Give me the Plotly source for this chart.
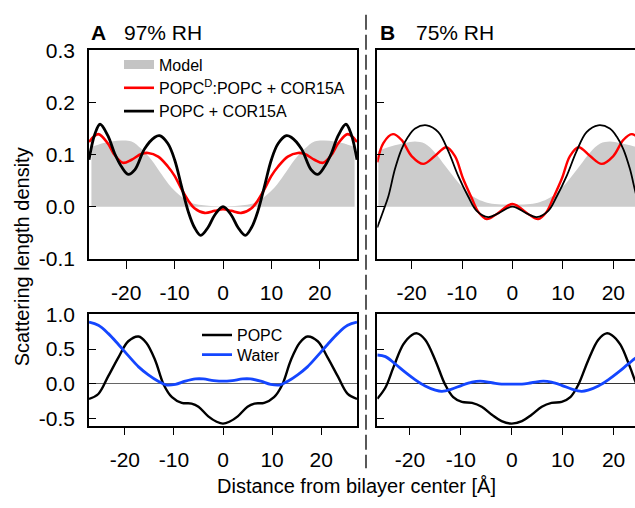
import plotly.graph_objects as go

# ---------------- data ----------------
# Panel A top (97% RH)
a_line_x = [-27.7, -26.5, -25.4, -23.8, -22.4, -21.0, -19.6, -18.2, -16.2, -14.1, -13.1, -11.4, -10.0, -8.6, -7.2, -5.9, -4.6, -3.1, -1.7, 0.0,
            1.7, 3.1, 4.6, 5.9, 7.2, 8.6, 10.0, 11.4, 13.1, 14.1, 16.2, 18.2, 19.6, 21.0, 22.4, 23.8, 25.4, 26.5, 27.7]
a_black = [0.090, 0.139, 0.158, 0.136, 0.102, 0.077, 0.062, 0.071, 0.111, 0.133, 0.136, 0.121, 0.090, 0.040, -0.009, -0.040, -0.055, -0.040, -0.016, 0.000,
           -0.016, -0.040, -0.055, -0.040, -0.009, 0.040, 0.090, 0.121, 0.136, 0.133, 0.111, 0.071, 0.062, 0.077, 0.102, 0.136, 0.158, 0.139, 0.090]

a_red_x = [-27.7, -25.8, -23.8, -22.4, -20.7, -18.9, -16.9, -15.5, -13.4, -11.4, -10.0, -8.6, -7.2, -5.9, -3.8, -1.7, 0.0,
           1.7, 3.8, 5.9, 7.2, 8.6, 10.0, 11.4, 13.4, 15.5, 16.9, 18.9, 20.7, 22.4, 23.8, 25.8, 27.7]
a_red = [0.124, 0.139, 0.121, 0.099, 0.084, 0.090, 0.101, 0.103, 0.096, 0.077, 0.059, 0.034, 0.012, -0.003, -0.012, -0.008, -0.005,
         -0.008, -0.012, -0.003, 0.012, 0.034, 0.059, 0.077, 0.096, 0.103, 0.101, 0.090, 0.084, 0.099, 0.121, 0.139, 0.124]

a_model_x = [-27.2, -26.0, -25.1, -23.0, -21.0, -18.9, -16.9, -14.8, -12.7, -10.7, -8.6, -6.5, -4.5, -2.5, 0.0,
             2.5, 4.5, 6.5, 8.6, 10.7, 12.7, 14.8, 16.9, 18.9, 21.0, 23.0, 25.1, 26.0, 27.2]
a_model = [0.115, 0.118, 0.121, 0.125, 0.127, 0.125, 0.111, 0.090, 0.062, 0.037, 0.019, 0.007, 0.003, 0.001, 0.000,
           0.001, 0.003, 0.007, 0.019, 0.037, 0.062, 0.090, 0.111, 0.125, 0.127, 0.125, 0.121, 0.118, 0.115]

# Panel B top (75% RH)
b_black_x = [-26.8, -25.6, -24.6, -23.3, -22.0, -20.7, -19.3, -17.0, -14.7, -12.7, -10.8, -8.8, -7.1, -4.8, -2.8, 0.0,
             2.8, 4.8, 7.1, 8.8, 10.8, 12.7, 14.7, 17.0, 19.3, 20.7, 22.0, 23.3, 24.6, 25.6, 26.8]
b_black = [-0.040, -0.008, 0.020, 0.072, 0.110, 0.134, 0.150, 0.156, 0.143, 0.106, 0.060, 0.020, -0.008, -0.020, -0.013, 0.000,
           -0.013, -0.020, -0.008, 0.020, 0.060, 0.106, 0.143, 0.156, 0.150, 0.134, 0.110, 0.072, 0.020, -0.008, -0.040]

b_red_x = [-26.8, -25.6, -23.7, -22.0, -20.0, -17.7, -15.4, -13.1, -11.4, -9.8, -8.1, -6.7, -5.1, -3.1, 0.0,
           3.1, 5.1, 6.7, 8.1, 9.8, 11.4, 13.1, 15.4, 17.7, 20.0, 22.0, 23.7, 25.6, 26.8]
b_red = [0.085, 0.122, 0.139, 0.128, 0.097, 0.082, 0.097, 0.114, 0.097, 0.054, 0.017, -0.011, -0.024, -0.014, 0.005,
         -0.014, -0.024, -0.011, 0.017, 0.054, 0.097, 0.114, 0.097, 0.082, 0.097, 0.128, 0.139, 0.122, 0.085]

b_model_x = [-26.6, -24.0, -21.3, -19.3, -17.4, -15.4, -13.4, -11.4, -9.4, -7.4, -5.5, -3.5, 0.0,
             3.5, 5.5, 7.4, 9.4, 11.4, 13.4, 15.4, 17.4, 19.3, 21.3, 24.0, 26.6]
b_model = [0.107, 0.116, 0.122, 0.125, 0.121, 0.104, 0.079, 0.054, 0.032, 0.017, 0.009, 0.005, 0.004,
           0.005, 0.009, 0.017, 0.032, 0.054, 0.079, 0.104, 0.121, 0.125, 0.122, 0.116, 0.107]

# Panel A bottom (components)
ab_x = [-27.3, -25.4, -23.4, -21.3, -19.3, -17.2, -15.6, -13.8, -12.1, -10.4, -8.4, -6.4, -5.0, -3.0, -1.3, 0.0,
        1.3, 3.0, 5.0, 6.4, 8.4, 10.4, 12.1, 13.8, 15.6, 17.2, 19.3, 21.3, 23.4, 25.4, 27.3]
ab_popc = [-0.220, -0.148, 0.105, 0.381, 0.612, 0.681, 0.588, 0.336, -0.010, -0.193, -0.276, -0.286, -0.331, -0.470, -0.548, -0.576,
           -0.548, -0.470, -0.331, -0.286, -0.276, -0.193, -0.010, 0.336, 0.588, 0.681, 0.612, 0.381, 0.105, -0.148, -0.220]
aw_x = [-27.3, -25.4, -23.4, -21.3, -19.3, -17.2, -15.2, -13.2, -11.5, -9.7, -7.7, -5.6, -4.0, -1.9, 0.0,
        1.9, 4.0, 5.6, 7.7, 9.7, 11.5, 13.2, 15.2, 17.2, 19.3, 21.3, 23.4, 25.4, 27.3]
aw_water = [0.888, 0.842, 0.726, 0.566, 0.405, 0.243, 0.128, 0.036, -0.019, -0.010, 0.036, 0.069, 0.069, 0.046, 0.036,
            0.046, 0.069, 0.069, 0.036, -0.010, -0.019, 0.036, 0.128, 0.243, 0.405, 0.566, 0.726, 0.842, 0.888]

# Panel B bottom (components)
bb_x = [-26.4, -24.8, -23.2, -21.3, -19.6, -18.6, -17.0, -15.0, -13.1, -11.5, -9.8, -7.8, -5.9, -3.9, -2.0, 0.0,
        2.0, 3.9, 5.9, 7.8, 9.8, 11.5, 13.1, 15.0, 17.0, 18.6, 19.6, 21.3, 23.2, 24.8, 26.4]
bb_popc = [-0.217, -0.055, 0.243, 0.566, 0.704, 0.726, 0.635, 0.336, -0.010, -0.193, -0.262, -0.276, -0.331, -0.447, -0.539, -0.576,
           -0.539, -0.447, -0.331, -0.276, -0.262, -0.193, -0.010, 0.336, 0.635, 0.726, 0.704, 0.566, 0.243, -0.055, -0.217]
bw_x = [-26.4, -24.8, -22.9, -21.0, -19.0, -17.0, -15.0, -13.7, -11.8, -9.8, -7.8, -6.2, -3.9, -2.0, 0.0,
        2.0, 3.9, 6.2, 7.8, 9.8, 11.8, 13.7, 15.0, 17.0, 19.0, 21.0, 22.9, 24.8, 26.4]
bw_water = [0.414, 0.391, 0.285, 0.170, 0.059, -0.033, -0.093, -0.110, -0.079, -0.023, 0.022, 0.036, 0.014, -0.005, -0.005,
            -0.005, 0.014, 0.036, 0.022, -0.023, -0.079, -0.110, -0.093, -0.033, 0.059, 0.170, 0.285, 0.391, 0.414]

x_tickvals = [-20, -10, 0, 10, 20]
x_ticktext = ["-20", "-10", "0", "10", "20"]
top_y_tickvals = [-0.1, 0.0, 0.1, 0.2, 0.3]
top_y_ticktext = ["-0.1", "0.0", "0.1", "0.2", "0.3"]
bot_y_tickvals = [-0.5, 0.0, 0.5, 1.0]
bot_y_ticktext = ["-0.5", "0.0", "0.5", "1.0"]

# ---------------- layout helpers ----------------
W, H = 635, 508
FONT = "Liberation Sans, Arial, Helvetica, sans-serif"
RED = "#ff0000"
BLUE = "#1446ff"
GRAY = "#cccccc"


def fx(p):
    return p / W


def fy(p):
    return 1 - p / H


fig = go.Figure()


def line(x, y, color, width, xa, ya, name=None, legend=None, showlegend=False):
    fig.add_trace(go.Scatter(x=x, y=y, mode="lines", line=dict(color=color, width=width, shape="spline", smoothing=1.0),
                             xaxis=xa, yaxis=ya, name=name, showlegend=showlegend, legend=legend, hoverinfo="skip"))


# Top A
fig.add_trace(go.Scatter(x=a_model_x, y=a_model, mode="lines", fill="tozeroy", fillcolor=GRAY,
                         line=dict(width=0, color=GRAY, shape="spline"), xaxis="x", yaxis="y", showlegend=False, hoverinfo="skip"))
# legend swatch for the model (no data, legend only)
fig.add_trace(go.Scatter(x=[None], y=[None], mode="lines", line=dict(width=9, color="#c4c4c4"),
                         name="Model", legend="legend", xaxis="x", yaxis="y", showlegend=True))
line(a_red_x, a_red, RED, 2.6, "x", "y", name="POPC<sup>D</sup>:POPC + COR15A", legend="legend2", showlegend=True)
line(a_line_x, a_black, "black", 2.8, "x", "y", name="POPC + COR15A", legend="legend3", showlegend=True)

# Top B
fig.add_trace(go.Scatter(x=b_model_x, y=b_model, mode="lines", fill="tozeroy", fillcolor=GRAY,
                         line=dict(width=0, color=GRAY, shape="spline"), xaxis="x2", yaxis="y2", showlegend=False, hoverinfo="skip"))
line(b_red_x, b_red, RED, 2.4, "x2", "y2")
line(b_black_x, b_black, "black", 1.8, "x2", "y2")

# Bottom A
line(ab_x, ab_popc, "black", 2.4, "x3", "y3", name="POPC", legend="legend4", showlegend=True)
line(aw_x, aw_water, BLUE, 2.8, "x3", "y3", name="Water", legend="legend5", showlegend=True)

# Bottom B
line(bb_x, bb_popc, "black", 2.4, "x4", "y4")
line(bw_x, bw_water, BLUE, 2.8, "x4", "y4")

left_dom = [fx(89), fx(357)]
right_dom = [fx(377.3), 1.0]
top_dom = [fy(258.5), fy(40)]
bot_dom = [fy(433.3), fy(316.7)]

tickfont = dict(family=FONT, size=21, color="black")
common_x = dict(showline=True, linecolor="black", linewidth=1.6, mirror=True, ticks="outside", ticklen=8,
                tickwidth=1.4, tickcolor="black", tickvals=x_tickvals, ticktext=x_ticktext, tickfont=tickfont,
                showgrid=False, zeroline=False, ticklabelstandoff=6)
common_y = dict(showline=True, linecolor="black", linewidth=1.6, ticks="inside", ticklen=7, tickwidth=1.4,
                tickcolor="black", tickfont=tickfont, showgrid=False, ticklabelstandoff=8)

leg_font = dict(family=FONT, size=16, color="black")


def leg(xp, yp):
    return dict(x=fx(xp), y=fy(yp), xanchor="left", yanchor="middle", bgcolor="rgba(0,0,0,0)",
                font=leg_font, borderwidth=0)


fig.update_layout(
    width=W, height=H, autosize=False,
    margin=dict(l=0, r=0, t=0, b=0),
    paper_bgcolor="white", plot_bgcolor="white",
    font=dict(family=FONT, size=16, color="black"),
    xaxis=dict(domain=left_dom, range=[-27.7, 27.7], anchor="y", **common_x),
    yaxis=dict(domain=top_dom, range=[-0.1, 0.3], anchor="x", mirror=True, zeroline=False,
               tickvals=top_y_tickvals, ticktext=top_y_ticktext, **common_y),
    xaxis2=dict(domain=right_dom, range=[-26.8, 24.3], anchor="y2", **common_x),
    yaxis2=dict(domain=top_dom, range=[-0.1, 0.3], anchor="x2", mirror=False, zeroline=False,
                tickvals=top_y_tickvals, showticklabels=False, **common_y),
    xaxis3=dict(domain=left_dom, range=[-27.3, 27.3], anchor="y3", **common_x),
    yaxis3=dict(domain=bot_dom, range=[-0.605, 1.0], anchor="x3", mirror=True, zeroline=True,
                zerolinecolor="#666666", zerolinewidth=1.2,
                tickvals=bot_y_tickvals, ticktext=bot_y_ticktext, **common_y),
    xaxis4=dict(domain=right_dom, range=[-26.4, 24.2], anchor="y4", **common_x),
    yaxis4=dict(domain=bot_dom, range=[-0.605, 1.0], anchor="x4", mirror=False, zeroline=True,
                zerolinecolor="#333333", zerolinewidth=1.2,
                tickvals=bot_y_tickvals, showticklabels=False, **common_y),
    legend=leg(119, 55),
    legend2=leg(119, 79.5),
    legend3=leg(119, 104),
    legend4=leg(197, 338.5),
    legend5=leg(197, 359),
    showlegend=True,
)

ann_font = dict(family=FONT, size=21, color="black")
fig.add_annotation(text="<b>A</b>", x=fx(89), y=fy(21), xref="paper", yref="paper", xanchor="left", yanchor="middle",
                   showarrow=False, font=ann_font)
fig.add_annotation(text="97% RH", x=fx(122), y=fy(21), xref="paper", yref="paper", xanchor="left", yanchor="middle",
                   showarrow=False, font=ann_font)
fig.add_annotation(text="<b>B</b>", x=fx(378), y=fy(21), xref="paper", yref="paper", xanchor="left", yanchor="middle",
                   showarrow=False, font=ann_font)
fig.add_annotation(text="75% RH", x=fx(414), y=fy(21), xref="paper", yref="paper", xanchor="left", yanchor="middle",
                   showarrow=False, font=ann_font)
title_font = dict(family=FONT, size=20, color="black")
fig.add_annotation(text="Scattering length density", x=fx(22), y=fy(257), xref="paper", yref="paper",
                   xanchor="center", yanchor="middle", textangle=-90, showarrow=False, font=title_font)
fig.add_annotation(text="Distance from bilayer center [Å]", x=fx(356), y=fy(497), xref="paper", yref="paper",
                   xanchor="center", yanchor="middle", showarrow=False, font=title_font)

fig.add_shape(type="line", xref="paper", yref="paper", x0=fx(366), x1=fx(366), y0=fy(3), y1=fy(478),
              line=dict(color="black", width=1.3, dash="15px,5px"))

fig.write_html("out.html")
